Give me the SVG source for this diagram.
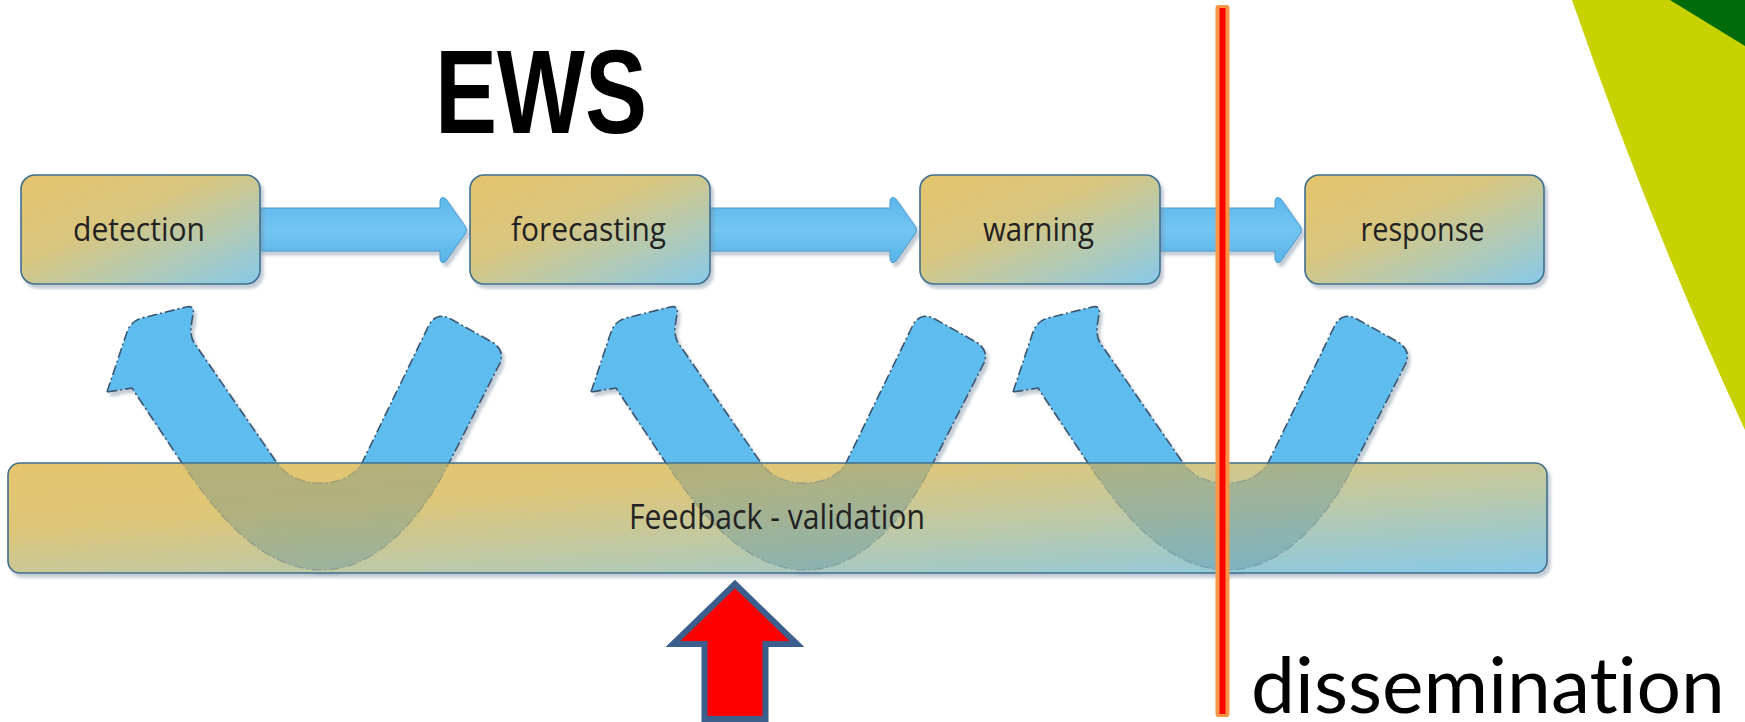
<svg xmlns="http://www.w3.org/2000/svg" width="1745" height="722" viewBox="0 0 1745 722">
<defs>
<style>
.box{fill:url(#boxGrad);stroke:#3F6F8F;stroke-width:1.6;filter:url(#sh)}
.lbl{font-family:"Open Sans","DejaVu Sans",sans-serif;font-size:33px;fill:#222;text-anchor:middle}
.harrow{fill:url(#arrGrad);stroke:#4A9AD0;stroke-width:1;filter:url(#sh)}
.uarrow{fill:#5EBCEE;stroke:#3A5570;stroke-width:1.6;stroke-dasharray:10 3 2 3;filter:url(#sh)}
.uover{fill:#4A8090;fill-opacity:0.3;stroke:#3A5570;stroke-opacity:0.25;stroke-width:1.4;stroke-dasharray:10 3 2 3}
</style>
<linearGradient id="boxGrad" x1="0" y1="0" x2="1" y2="1">
<stop offset="0" stop-color="#E4C46C"/>
<stop offset="0.4" stop-color="#D9C67E"/>
<stop offset="0.72" stop-color="#B0CAB8"/>
<stop offset="1" stop-color="#86C9E9"/>
</linearGradient>
<linearGradient id="barGrad" x1="0" y1="0" x2="1" y2="1">
<stop offset="0" stop-color="#E4C56E"/>
<stop offset="0.3" stop-color="#DEC678"/>
<stop offset="0.6" stop-color="#BEC9A6"/>
<stop offset="1" stop-color="#86C9E9"/>
</linearGradient>
<linearGradient id="arrGrad" x1="0" y1="0" x2="0" y2="1">
<stop offset="0" stop-color="#5BB6EA"/>
<stop offset="0.5" stop-color="#73C6F2"/>
<stop offset="1" stop-color="#58B3E8"/>
</linearGradient>
<filter id="sh" x="-10%" y="-10%" width="130%" height="140%">
<feDropShadow dx="3" dy="4" stdDeviation="1.5" flood-color="#7890A4" flood-opacity="0.45"/>
</filter>
<clipPath id="barClip"><rect x="8" y="463" width="1539" height="110" rx="12"/></clipPath>
<path id="uShape" d="M 107,392 L 127,332 Q 131,321 142,318 L 186,307 Q 195,305 193,314 L 191,327 Q 190,339 197,347 L 277,463 C 287,477 303,483 320,483 C 338,483 353,477 362,463 L 428,327 Q 435,312 449,318 L 492,342 Q 505,350 500,363 L 449,463 C 427,508 382,570 322,570 C 262,570 216,514 182,463 L 132,388 Z"/>
</defs>

<rect width="1745" height="722" fill="#FFFFFF"/>

<g id="decoration">
<path d="M 1572,0 L 1745,0 L 1745,430 Q 1648,220 1572,0 Z" fill="#C8D200"/>
<polygon points="1670,0 1745,0 1745,46" fill="#006B0A"/>
</g>

<g id="title">
<text x="435" y="133" font-family="Liberation Sans, Arial, sans-serif" font-weight="bold" font-size="119" textLength="212" lengthAdjust="spacingAndGlyphs" fill="#000">EWS</text>
</g>

<g id="connectors">
<path class="harrow" d="M 259,208 L 440,208 L 440,201 Q 441,195 446,199 L 465,226 Q 468,230 465,234 L 446,261 Q 441,265 440,259 L 440,251 L 259,251 Z"/>
<path class="harrow" d="M 709,208 L 890,208 L 890,201 Q 891,195 896,199 L 915,226 Q 918,230 915,234 L 896,261 Q 891,265 890,259 L 890,251 L 709,251 Z"/>
<path class="harrow" d="M 1159,208 L 1275,208 L 1275,201 Q 1276,195 1281,199 L 1300,226 Q 1303,230 1300,234 L 1281,261 Q 1276,265 1275,259 L 1275,251 L 1159,251 Z"/>
<use href="#uShape" class="uarrow"/>
<use href="#uShape" class="uarrow" transform="translate(484,0)"/>
<use href="#uShape" class="uarrow" transform="translate(906,0)"/>
</g>

<g id="node-detection">
<rect class="box" x="21" y="175" width="239" height="109" rx="14"/>
<text class="lbl" x="139" y="241" textLength="132" lengthAdjust="spacingAndGlyphs">detection</text>
</g>
<g id="node-forecasting">
<rect class="box" x="470" y="175" width="240" height="109" rx="14"/>
<text class="lbl" x="588.5" y="241" textLength="155" lengthAdjust="spacingAndGlyphs">forecasting</text>
</g>
<g id="node-warning">
<rect class="box" x="920" y="175" width="240" height="109" rx="14"/>
<text class="lbl" x="1038.5" y="241" textLength="111" lengthAdjust="spacingAndGlyphs">warning</text>
</g>
<g id="node-response">
<rect class="box" x="1305" y="175" width="239" height="109" rx="14"/>
<text class="lbl" x="1422.5" y="241" textLength="124" lengthAdjust="spacingAndGlyphs">response</text>
</g>

<g id="node-feedback">
<rect x="8" y="463" width="1539" height="110" rx="12" fill="url(#barGrad)" stroke="#3F6F8F" stroke-width="1.6" filter="url(#sh)"/>
<g clip-path="url(#barClip)">
<use href="#uShape" class="uover"/>
<use href="#uShape" class="uover" transform="translate(484,0)"/>
<use href="#uShape" class="uover" transform="translate(906,0)"/>
</g>
<text class="lbl" x="777" y="529" style="font-size:35px" textLength="296" lengthAdjust="spacingAndGlyphs">Feedback - validation</text>
</g>

<g id="divider">
<rect x="1215.5" y="5" width="14" height="712" rx="3" fill="#F79646"/>
<rect x="1219.5" y="8" width="6" height="706" fill="#FF0000"/>
</g>

<g id="red-arrow">
<path d="M 735,584 L 797,644 L 765.5,644 L 765.5,719 L 704.5,719 L 704.5,644 L 673,644 Z" fill="#FF0000" stroke="#3B5E8C" stroke-width="6" stroke-linejoin="miter"/>
</g>

<g id="dissemination-label">
<text x="1251" y="713" font-family="Lato, 'Open Sans', sans-serif" font-size="78" textLength="474" lengthAdjust="spacingAndGlyphs" style="font-variant-ligatures:none" fill="#000">dissemination</text>
</g>
</svg>
